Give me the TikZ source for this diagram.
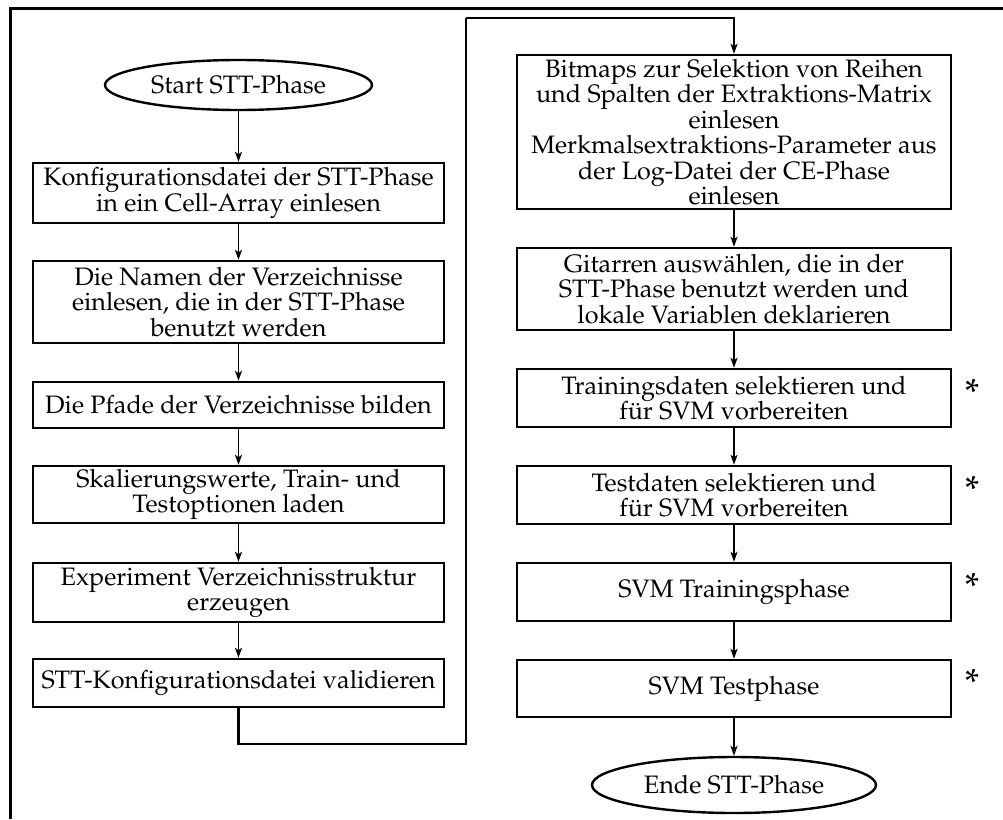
\documentclass[tikz,border=0pt]{standalone}
\usepackage[T1]{fontenc}
\usepackage{mathpazo}
\usetikzlibrary{shapes.geometric,arrows.meta}
\begin{document}
\begin{tikzpicture}[x=1pt,y=-1pt,
  font=\fontsize{25.2}{25.5}\selectfont,
  stepbox/.style={draw, line width=2.4pt, rectangle, align=center, inner sep=0pt},
  leftbox/.style={stepbox, minimum width=411pt},
  rightbox/.style={stepbox, minimum width=434pt},
  terminal/.style={draw, line width=2.4pt, ellipse, inner sep=0pt},
  flow/.style={line width=1.8pt, -{Stealth[length=10pt,width=7pt,inset=2.5pt]}},
  link/.style={line width=2.4pt},
  starmark/.style={anchor=base, font=\fontsize{38}{38}\selectfont},
]
\useasboundingbox (0,0) rectangle (1003,819);
% frame
\draw[line width=3pt] (10,819) -- (10,8) -- (1003,8);

% left column
\node[terminal, minimum width=267pt, minimum height=50pt] (start) at (238.5,85) {Start STT-Phase};
\node[leftbox, minimum height=60pt] (b1) at (238.5,193) {Konfigurationsdatei der STT-Phase\\in ein Cell-Array einlesen};
\node[leftbox, minimum height=82pt] (b2) at (238.5,302) {Die Namen der Verzeichnisse\\einlesen, die in der STT-Phase\\benutzt werden};
\node[leftbox, minimum height=46pt] (b3) at (238.5,405) {Die Pfade der Verzeichnisse bilden};
\node[leftbox, minimum height=57pt] (b4) at (238.5,494.5) {Skalierungswerte, Train- und\\Testoptionen laden};
\node[leftbox, minimum height=59pt] (b5) at (238.5,592.5) {Experiment Verzeichnisstruktur\\erzeugen};
\node[leftbox, minimum height=48pt] (b6) at (238.5,683) {STT-Konfigurationsdatei validieren};

% right column
\node[rightbox, minimum height=154pt] (r1) at (734,132) {Bitmaps zur Selektion von Reihen\\und Spalten der Extraktions-Matrix\\einlesen\\Merkmalsextraktions-Parameter aus\\der Log-Datei der CE-Phase\\einlesen};
\node[rightbox, minimum height=82pt] (r2) at (734,289) {Gitarren ausw\"ahlen, die in der\\STT-Phase benutzt werden und\\lokale Variablen deklarieren};
\node[rightbox, minimum height=58pt] (r3) at (734,398) {Trainingsdaten selektieren und\\f\"ur SVM vorbereiten};
\node[rightbox, minimum height=58pt] (r4) at (734,495) {Testdaten selektieren und\\f\"ur SVM vorbereiten};
\node[rightbox, minimum height=58pt] (r5) at (734,592) {SVM Trainingsphase};
\node[rightbox, minimum height=57pt] (r6) at (734,688.5) {SVM Testphase};
\node[terminal, minimum width=284pt, minimum height=56pt] (ende) at (734,785) {Ende STT-Phase};

% asterisks beside the SVM steps
\node[starmark] (s3) at (972,405) {*};
\node[starmark] (s4) at (972,502) {*};
\node[starmark] (s5) at (972,599) {*};
\node[starmark] (s6) at (972,695) {*};

% connectors
\draw[flow] (start) -- (b1);
\draw[flow] (b1) -- (b2);
\draw[flow] (b2) -- (b3);
\draw[flow] (b3) -- (b4);
\draw[flow] (b4) -- (b5);
\draw[flow] (b5) -- (b6);
\coordinate (lowturn) at (238.5,744);
\coordinate (topturn) at (466,18);
\draw[link] (b6.south) -- (lowturn) -| (topturn);
\draw[flow] (topturn) -| (r1.north);
\draw[flow] (r1) -- (r2);
\draw[flow] (r2) -- (r3);
\draw[flow] (r3) -- (r4);
\draw[flow] (r4) -- (r5);
\draw[flow] (r5) -- (r6);
\draw[flow] (r6) -- (ende);
\end{tikzpicture}
\end{document}
